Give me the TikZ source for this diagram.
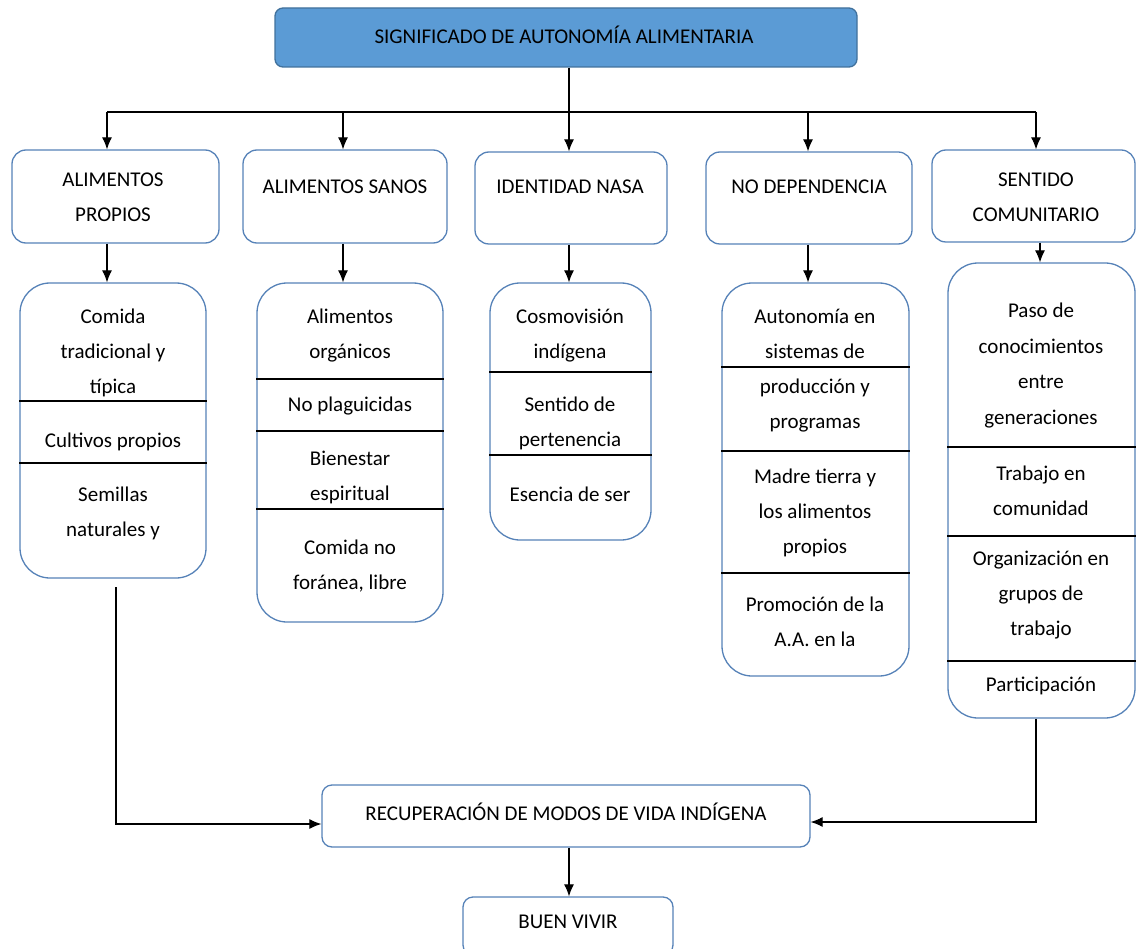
\documentclass[tikz,border=0pt]{standalone}
\usepackage{fontspec}
\setmainfont{Carlito}
\usetikzlibrary{arrows.meta}
\definecolor{titlefill}{HTML}{5B9BD5}
\definecolor{titledraw}{HTML}{41719C}
\definecolor{boxdraw}{HTML}{5682B8}
\begin{document}
\begin{tikzpicture}[x=1pt,y=-1pt,
  box/.style={draw=boxdraw, line width=1.3pt, rounded corners=14pt, fill=white, inner sep=0pt},
  bigbox/.style={box, rounded corners=30pt},
  titlebox/.style={box, fill=titlefill, draw=titledraw, rounded corners=8pt},
  txt/.style={inner sep=0pt, align=center, font=\fontsize{21}{35}\selectfont},
  arr/.style={-{Latex[length=12pt,width=10pt]}, line width=1.1pt},
  link/.style={line width=1.1pt},
  divider/.style={line width=1.4pt}
]
\useasboundingbox (0,0) rectangle (1137,949);

% top
\node[titlebox, minimum width=582pt, minimum height=59pt] (top) at (566,37.5) {};
\node[txt] (ttop) at (564,35) {SIGNIFICADO DE AUTONOMÍA ALIMENTARIA};

% level 2
\node[box, minimum width=207pt, minimum height=93pt] (h1) at (115.5,196.5) {};
\node[box, minimum width=204pt, minimum height=93pt] (h2) at (345,196.5) {};
\node[box, minimum width=192pt, minimum height=92pt] (h3) at (571,198) {};
\node[box, minimum width=206pt, minimum height=92pt] (h4) at (809,198) {};
\node[box, minimum width=203pt, minimum height=92pt] (h5) at (1033.5,196) {};
\node[txt] (th1) at (113,197.5) {ALIMENTOS\\PROPIOS};
\node[txt] (th2) at (345,187) {ALIMENTOS SANOS};
\node[txt] (th3) at (570,187) {IDENTIDAD NASA};
\node[txt] (th4) at (809,187) {NO DEPENDENCIA};
\node[txt] (th5) at (1036,197.5) {SENTIDO\\COMUNITARIO};

% top connectors
\coordinate (jt) at (569,112);
\coordinate (j1) at (107,112);
\coordinate (j2) at (343,112);
\coordinate (j4) at (808,112);
\coordinate (j5) at (1036,112);
\draw[link] (top.south -| jt) -- (jt);
\draw[link] (j1) -- (j5);
\draw[arr] (j1) -- (j1 |- h1.north);
\draw[arr] (j2) -- (j2 |- h2.north);
\draw[arr] (jt) -- (jt |- h3.north);
\draw[arr] (j4) -- (j4 |- h4.north);
\draw[arr] (j5) -- (j5 |- h5.north);

% level 3
\node[bigbox, minimum width=186pt, minimum height=295pt] (d1) at (113,430.5) {};
\node[bigbox, minimum width=186pt, minimum height=339pt] (d2) at (350,452.5) {};
\node[bigbox, minimum width=161pt, minimum height=257pt] (d3) at (570.5,411.5) {};
\node[bigbox, minimum width=187pt, minimum height=393pt] (d4) at (815.5,479.5) {};
\node[bigbox, minimum width=187pt, minimum height=455pt] (d5) at (1041.5,490.5) {};

% arrows level 2 -> 3
\coordinate (k1) at (107,0);
\coordinate (k2) at (343,0);
\coordinate (k3) at (569,0);
\coordinate (k4) at (808,0);
\coordinate (k5) at (1040,0);
\draw[arr] (h1.south -| k1) -- (d1.north -| k1);
\draw[arr] (h2.south -| k2) -- (d2.north -| k2);
\draw[arr] (h3.south -| k3) -- (d3.north -| k3);
\draw[arr] (h4.south -| k4) -- (d4.north -| k4);
\draw[arr] (h5.south -| k5) -- (d5.north -| k5);

% dividers
\foreach \yy in {401,463} \draw[divider] (d1.west |- 0,\yy) -- (d1.east |- 0,\yy);
\foreach \yy in {379,431,509} \draw[divider] (d2.west |- 0,\yy) -- (d2.east |- 0,\yy);
\foreach \yy in {372,455} \draw[divider] (d3.west |- 0,\yy) -- (d3.east |- 0,\yy);
\foreach \yy in {367,451,573} \draw[divider] (d4.west |- 0,\yy) -- (d4.east |- 0,\yy);
\foreach \yy in {447,536,661} \draw[divider] (d5.west |- 0,\yy) -- (d5.east |- 0,\yy);

% level 3 texts
\node[txt] (t1a) at (113,353) {Comida\\tradicional y\\típica};
\node[txt] (t1b) at (113,442) {Cultivos propios};
\node[txt] (t1c) at (113,513.5) {Semillas\\naturales y};
\node[txt] (t2a) at (350,335.5) {Alimentos\\orgánicos};
\node[txt] (t2b) at (350,406) {No plaguicidas};
\node[txt] (t2c) at (350,477) {Bienestar\\espiritual};
\node[txt] (t2d) at (350,566) {Comida no\\foránea, libre};
\node[txt] (t3a) at (570,335.5) {Cosmovisión\\indígena};
\node[txt] (t3b) at (570,423.5) {Sentido de\\pertenencia};
\node[txt] (t3c) at (570,494) {Esencia de ser};
\node[txt] (t4a) at (815,371) {Autonomía en\\sistemas de\\producción y\\programas};
\node[txt] (t4b) at (815,513) {Madre tierra y\\los alimentos\\propios};
\node[txt] (t4c) at (815,621.5) {Promoción de la\\A.A. en la};
\node[txt, font=\fontsize{21}{35.7}\selectfont] (t5a) at (1041,365.5) {Paso de\\conocimientos\\entre\\generaciones};
\node[txt] (t5b) at (1041,490.5) {Trabajo en\\comunidad};
\node[txt] (t5c) at (1041,595.5) {Organización en\\grupos de\\trabajo};
\node[txt] (t5d) at (1041,686) {Participación};

% bottom
\node[box, rounded corners=10pt, minimum width=488pt, minimum height=62pt] (rec) at (566,816) {};
\node[txt] (trec) at (566,812) {RECUPERACIÓN DE MODOS DE VIDA INDÍGENA};
\node[box, rounded corners=10pt, minimum width=210pt, minimum height=58pt] (bv) at (568,926) {};
\node[txt] (tbv) at (568,922) {BUEN VIVIR};

\coordinate (l1) at (116,587);
\coordinate (l2) at (116,824);
\draw[arr] (l1) -- (l2) -- (l2 -| rec.west);
\coordinate (r1) at (1036,822);
\draw[arr] (d5.south -| r1) -- (r1) -- (r1 -| rec.east);
\coordinate (m1) at (569,0);
\draw[arr] (rec.south -| m1) -- (bv.north -| m1);
\end{tikzpicture}
\end{document}
